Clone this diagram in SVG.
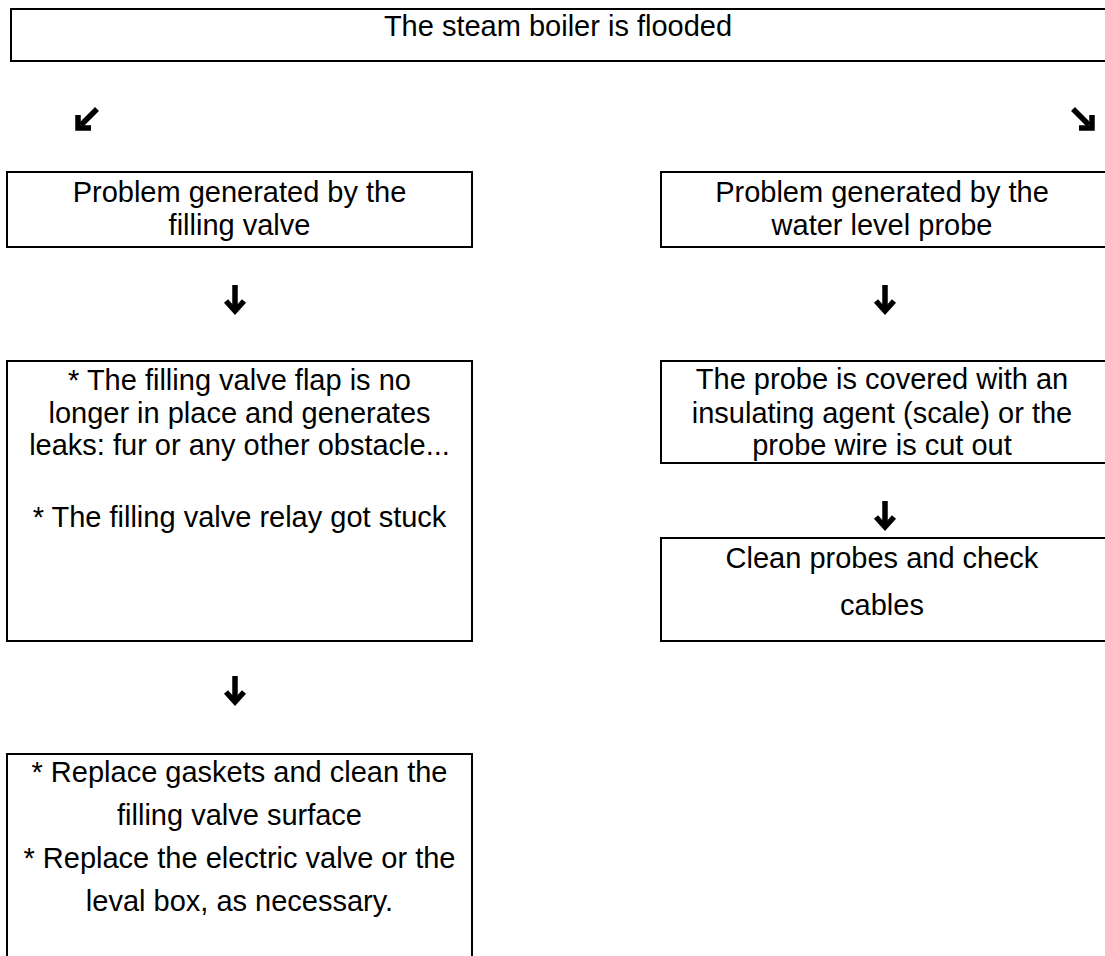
<svg xmlns="http://www.w3.org/2000/svg" xmlns:xlink="http://www.w3.org/1999/xlink" width="1105" height="956" viewBox="0 0 1105 956">
  <style>
    .box { fill: #ffffff; stroke: #000000; stroke-width: 2; }
    .lbl { font-family: "Liberation Sans", Arial, sans-serif; font-size: 29px; fill: #000000; text-anchor: middle; }
    .arr { fill: none; stroke: #000000; stroke-width: 5.5; stroke-linecap: butt; stroke-linejoin: miter; }
  </style>
  <defs>
    <!-- bold downward arrow, centred on its origin -->
    <g id="arrowDown">
      <path class="arr" d="M0,-14 L0,11"/>
      <path class="arr" d="M-9,2 L0,12 L9,2"/>
    </g>
    <!-- bold arrow pointing down-left -->
    <g id="arrowDownLeft">
      <path class="arr" d="M10,-10 L-6,6"/>
      <path class="arr" d="M-9,-4 L-9,9 L4,9"/>
    </g>
    <!-- bold arrow pointing down-right -->
    <g id="arrowDownRight">
      <path class="arr" d="M-10,-10 L6,6"/>
      <path class="arr" d="M9,-4 L9,9 L-4,9"/>
    </g>
  </defs>

  <rect width="1105" height="956" fill="#ffffff"/>

  <g id="node-flooded">
    <rect class="box" x="11" y="9" width="1110" height="52"/>
    <text class="lbl" x="558" y="36">The steam boiler is flooded</text>
  </g>

  <g id="node-filling-valve">
    <rect class="box" x="7" y="172" width="465" height="75"/>
    <text class="lbl" x="239.5" y="202">Problem generated by the</text>
    <text class="lbl" x="239.5" y="235">filling valve</text>
  </g>

  <g id="node-level-probe">
    <rect class="box" x="661" y="172" width="450" height="75"/>
    <text class="lbl" x="882" y="202">Problem generated by the</text>
    <text class="lbl" x="882" y="235">water level probe</text>
  </g>

  <g id="node-valve-causes">
    <rect class="box" x="7" y="361" width="465" height="280"/>
    <text class="lbl" x="239.5" y="390">* The filling valve flap is no</text>
    <text class="lbl" x="239.5" y="423">longer in place and generates</text>
    <text class="lbl" x="239.5" y="455">leaks: fur or any other obstacle...</text>
    <text class="lbl" x="239.5" y="527">* The filling valve relay got stuck</text>
  </g>

  <g id="node-probe-cause">
    <rect class="box" x="661" y="361" width="450" height="102"/>
    <text class="lbl" x="882" y="389">The probe is covered with an</text>
    <text class="lbl" x="882" y="423">insulating agent (scale) or the</text>
    <text class="lbl" x="882" y="455">probe wire is cut out</text>
  </g>

  <g id="node-probe-fix">
    <rect class="box" x="661" y="538" width="450" height="103"/>
    <text class="lbl" x="882" y="568">Clean probes and check</text>
    <text class="lbl" x="882" y="615">cables</text>
  </g>

  <g id="node-valve-fix">
    <rect class="box" x="7" y="754" width="465" height="220"/>
    <text class="lbl" x="239.5" y="782">* Replace gaskets and clean the</text>
    <text class="lbl" x="239.5" y="825">filling valve surface</text>
    <text class="lbl" x="239.5" y="868">* Replace the electric valve or the</text>
    <text class="lbl" x="239.5" y="911">leval box, as necessary.</text>
  </g>

  <g id="connectors">
    <use xlink:href="#arrowDownLeft" x="87" y="119"/>
    <use xlink:href="#arrowDownRight" x="1083" y="119"/>
    <use xlink:href="#arrowDown" x="235" y="299"/>
    <use xlink:href="#arrowDown" x="885" y="299"/>
    <use xlink:href="#arrowDown" x="885" y="515"/>
    <use xlink:href="#arrowDown" x="235" y="690"/>
  </g>
</svg>
